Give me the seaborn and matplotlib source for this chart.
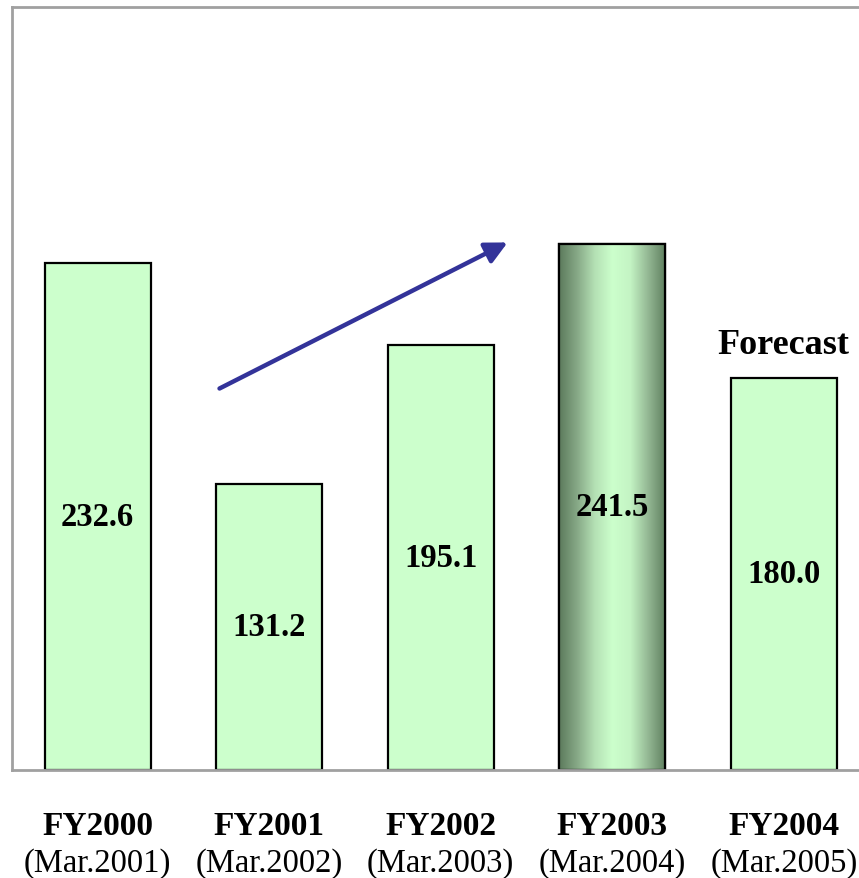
import numpy as np
import pandas as pd
import matplotlib
matplotlib.use('Agg')
import matplotlib.pyplot as plt
import seaborn as sns
from matplotlib.colors import LinearSegmentedColormap

# data
fiscal_years = ['FY2000', 'FY2001', 'FY2002', 'FY2003', 'FY2004']
period_ends = ['(Mar.2001)', '(Mar.2002)', '(Mar.2003)', '(Mar.2004)', '(Mar.2005)']
values = [232.6, 131.2, 195.1, 241.5, 180.0]
highlight_idx = 3   # FY2003 drawn as shaded cylinder
forecast_idx = 4
trend_start = (0.71, 175)
trend_end = (2.39, 242)

df = pd.DataFrame({'year': fiscal_years, 'value': values})

sns.set_theme(style='white')
plt.rcParams['font.family'] = ['Liberation Serif', 'DejaVu Serif']
plt.rcParams['text.color'] = 'black'

fig = plt.figure(figsize=(8.59, 8.79), dpi=100)
# axes runs past the right edge of the figure like the original
ax = fig.add_axes([12 / 859, 108 / 879, 857.5 / 859, 763 / 879])

sns.barplot(data=df, x='year', y='value', color='#ccffcc', saturation=1,
            edgecolor='black', linewidth=1.6, width=0.62, ax=ax)

ax.set_xlim(-0.5, 4.5)
ax.set_ylim(0, 350)
ax.set_xlabel('')
ax.set_ylabel('')
ax.set_xticks([])
ax.set_yticks([])

for side in ['left', 'top', 'bottom', 'right']:
    ax.spines[side].set_color('#a0a0a0')
    ax.spines[side].set_linewidth(2)

# cylinder shading on the highlighted bar
bar = ax.patches[highlight_idx]
bx, bw, bh = bar.get_x(), bar.get_width(), bar.get_height()
cyl = LinearSegmentedColormap.from_list(
    'cyl', ['#5c7a5c', '#86a886', '#b4e0b4', '#ccffcc', '#c4f4c4', '#94b894', '#5f7f5f'])
grad = np.linspace(0, 1, 256).reshape(1, -1)
img = ax.imshow(grad, cmap=cyl, aspect='auto', extent=[bx, bx + bw, 0, bh],
                zorder=bar.get_zorder() + 0.1, interpolation='bilinear')
img.set_clip_path(bar)
ax.add_patch(plt.Rectangle((bx, 0), bw, bh, fill=False, edgecolor='black',
                           linewidth=1.6, zorder=bar.get_zorder() + 0.2))
ax.set_xlim(-0.5, 4.5)
ax.set_ylim(0, 350)

# value labels inside the bars
for i, v in enumerate(values):
    ax.text(i, v / 2, f'{v:.1f}', ha='center', va='center', fontsize=23.5,
            fontweight='bold', color='black', zorder=5)

# category labels under the axis
trans = ax.get_xaxis_transform()
for i, (fy, pe) in enumerate(zip(fiscal_years, period_ends)):
    ax.text(i, -0.073, fy, transform=trans, ha='center', va='center',
            fontsize=24, fontweight='bold', clip_on=False)
    ax.text(i, -0.121, pe, transform=trans, ha='center', va='center',
            fontsize=23.5, clip_on=False)

ax.annotate('Forecast', xy=(forecast_idx, values[forecast_idx]), xytext=(0, 24),
            textcoords='offset points', ha='center', va='center',
            fontsize=26, fontweight='bold')

# growth arrow
ax.annotate('', xy=trend_end, xytext=trend_start,
            arrowprops=dict(arrowstyle='-|>,head_length=1.1,head_width=0.55',
                            color='#333399', lw=3.2, shrinkA=0, shrinkB=0))

fig.savefig('out.png', dpi=100)
